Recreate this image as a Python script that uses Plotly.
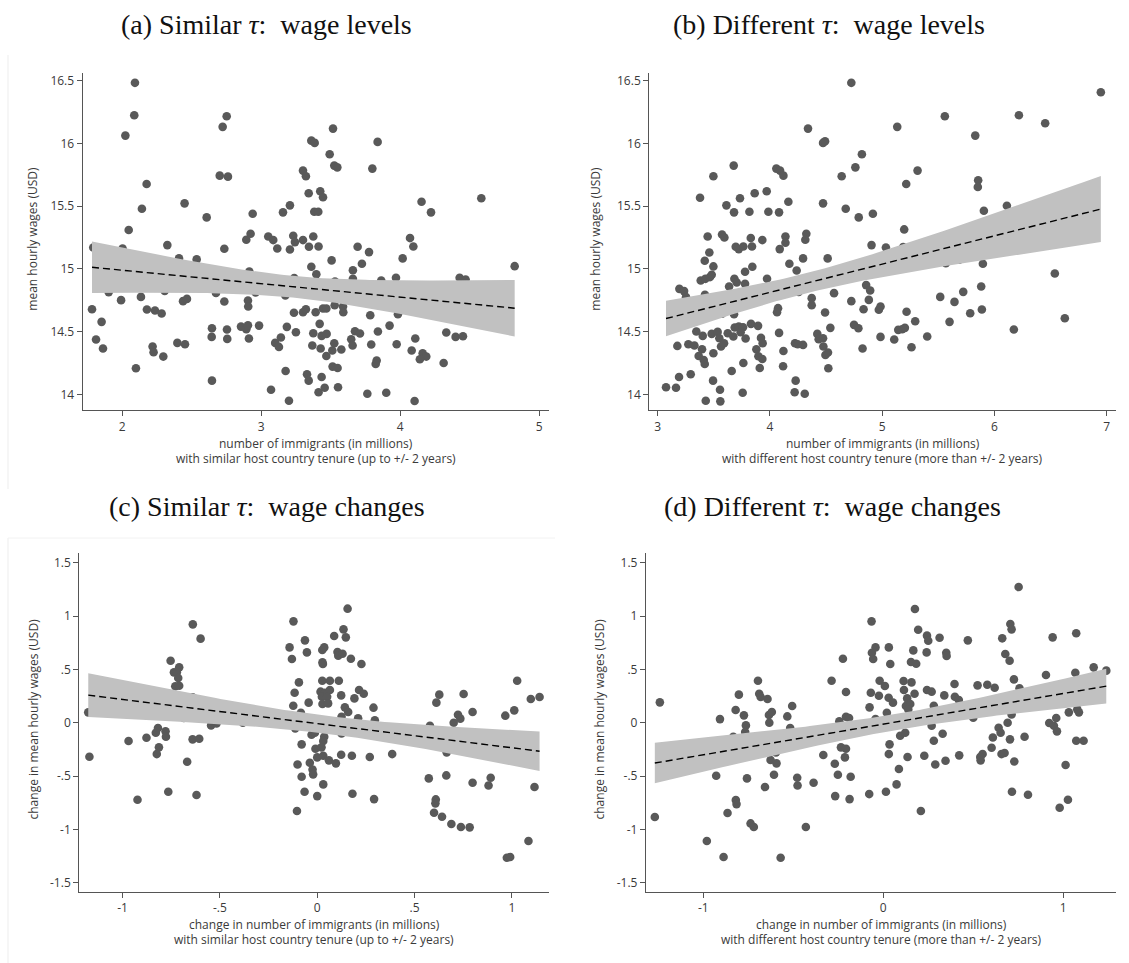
import numpy as np
import plotly.graph_objects as go

# ---------------- data ----------------
# (a) Similar tau: wage levels  -> (immigrants in millions, mean hourly wage)
a_points = [
    (2.091,16.484),(2.086,16.226),(2.022,16.063),(2.175,15.677),(2.141,15.480),(2.046,15.310),(1.791,15.171),
    (2.002,15.163),(2.324,15.190),(2.408,15.084),(2.535,15.076),(1.902,14.815),(1.991,14.751),(2.134,14.777),
    (2.305,14.825),(2.177,14.676),(2.235,14.668),(2.283,14.644),(2.437,14.743),(2.465,14.761),(1.782,14.679),
    (1.851,14.578),(1.811,14.437),(1.861,14.365),(2.218,14.381),(2.225,14.335),(2.295,14.301),(2.396,14.410),
    (2.451,14.399),(2.098,14.208),(2.448,15.523),(2.607,15.411),(2.722,16.133),(2.751,16.218),(2.701,15.744),
    (2.760,15.736),(2.938,15.440),(2.923,15.281),(2.892,15.233),(2.734,15.161),(2.674,14.809),(2.734,14.740),
    (2.645,14.527),(2.643,14.458),(2.753,14.517),(2.755,14.442),(2.645,14.109),(2.904,14.748),(2.906,14.700),
    (2.914,14.980),(2.959,14.812),(2.854,14.540),(2.892,14.519),(2.904,14.551),(2.911,14.445),(2.984,14.548),
    (3.050,15.259),(3.086,15.230),(3.115,15.163),(3.156,15.451),(3.206,15.507),(3.206,15.155),(3.230,15.265),
    (3.242,15.214),(3.173,14.788),(3.237,14.927),(3.184,14.538),(3.249,14.495),(3.141,14.453),(3.100,14.410),
    (3.127,14.378),(3.235,14.650),(3.175,14.186),(3.070,14.037),(3.199,13.949),
    (3.516,16.119),(3.360,16.023),(3.384,16.005),(3.837,16.013),(3.492,15.914),(3.525,15.824),(3.547,15.810),
    (3.799,15.800),(3.300,15.784),(3.321,15.739),(3.341,15.603),(3.424,15.619),(3.444,15.571),(3.381,15.456),
    (3.410,15.456),(4.153,15.536),(4.221,15.451),(4.583,15.563),(3.300,15.230),(3.374,15.259),(3.343,15.177),
    (3.412,15.179),(3.693,15.177),(3.775,15.134),(4.070,15.246),(4.094,15.179),(3.506,15.068),(3.360,15.017),
    (3.396,14.958),(3.659,14.990),(3.724,15.041),(4.017,15.084),(3.659,14.921),(3.530,14.900),(3.863,14.908),
    (3.969,14.929),(4.427,14.929),(4.470,14.916),(4.823,15.022),(3.300,14.655),(3.321,14.679),(3.391,14.655),
    (3.444,14.684),(3.468,14.684),(3.528,14.711),(3.588,14.700),(3.590,14.655),(3.784,14.631),(3.983,14.639),
    (3.420,14.562),(3.374,14.487),(3.434,14.466),(3.470,14.482),(3.367,14.389),(3.427,14.365),(3.468,14.306),
    (3.525,14.407),(3.511,14.349),(3.576,14.357),(3.674,14.503),(3.710,14.485),(3.647,14.439),(3.657,14.389),
    (3.839,14.501),(3.791,14.397),(3.923,14.548),(3.974,14.399),(4.108,14.445),(4.082,14.349),(4.161,14.327),
    (4.187,14.301),(4.141,14.280),(3.830,14.269),(3.823,14.242),(4.312,14.250),(4.331,14.493),(4.398,14.458),
    (4.451,14.463),(3.513,14.221),(3.549,14.210),(3.329,14.160),(3.341,14.109),(3.434,14.138),(3.412,14.016),
    (3.456,14.053),(3.552,14.056),(3.763,14.005),(3.899,14.013),(4.103,13.947),
]

# (b) Different tau: wage levels
b_points = [
    (4.725,16.484),(4.339,16.119),(4.473,16.005),(4.491,16.018),(4.761,15.810),(4.639,15.739),(3.677,15.824),
    (3.496,15.739),(4.057,15.800),(4.090,15.784),(4.120,15.744),(3.377,15.568),(3.864,15.603),(3.971,15.619),
    (3.612,15.507),(3.733,15.563),(3.680,15.451),(3.817,15.456),(3.986,15.456),(4.081,15.451),(4.164,15.536),
    (4.473,15.523),(4.675,15.480),(4.791,15.411),(3.573,15.275),(3.594,15.251),(3.445,15.259),(3.695,15.177),
    (3.722,15.158),(3.763,15.179),(3.829,15.246),(3.840,15.179),(3.932,15.230),(4.087,15.158),(4.138,15.259),
    (4.138,15.209),(4.324,15.281),(4.315,15.233),(3.460,15.131),(3.419,15.065),(3.496,15.020),(3.383,14.908),
    (3.425,14.921),(3.466,14.935),(3.481,14.953),(3.778,14.977),(3.843,15.017),(3.974,14.921),(4.173,15.041),
    (4.238,14.988),(4.295,15.084),(4.514,15.084),(3.193,14.841),(3.235,14.823),(3.252,14.775),(3.421,14.793),
    (3.636,14.860),(3.683,14.921),(3.704,14.892),(3.778,14.881),(3.748,14.700),(3.680,14.639),(3.573,14.642),
    (4.072,14.687),(4.063,14.655),(4.256,14.817),(4.372,14.767),(4.372,14.711),(4.571,14.807),(4.491,14.652),
    (4.725,14.743),(4.749,14.554),(4.788,14.527),(4.538,14.530),(3.344,14.501),(3.401,14.466),(3.481,14.482),
    (3.534,14.498),(3.549,14.447),(3.624,14.487),(3.674,14.461),(3.686,14.533),(3.722,14.540),(3.760,14.535),
    (3.831,14.562),(3.894,14.546),(3.739,14.495),(3.783,14.445),(3.920,14.450),(3.935,14.407),(4.081,14.490),
    (3.175,14.386),(3.273,14.399),(3.327,14.389),(3.365,14.306),(3.395,14.359),(3.410,14.274),(3.419,14.242),
    (3.496,14.327),(3.564,14.381),(3.591,14.407),(3.879,14.359),(3.897,14.304),(3.932,14.282),(3.763,14.250),
    (3.909,14.210),(4.120,14.346),(4.117,14.224),(4.223,14.407),(4.247,14.399),(4.295,14.394),(4.422,14.482),
    (4.434,14.439),(4.473,14.447),(4.476,14.381),(4.494,14.314),(4.517,14.333),(4.520,14.208),(3.659,14.186),
    (3.493,14.109),(3.555,14.037),(3.428,13.949),(3.558,13.944),(3.757,14.013),(3.074,14.056),(3.163,14.053),
    (3.190,14.138),(3.294,14.160),(4.229,14.109),(4.220,14.016),(4.310,14.005),
    (6.948,16.409),(5.558,16.218),(6.218,16.226),(6.452,16.162),(5.134,16.133),(5.829,16.063),(4.819,15.914),
    (5.315,15.784),(5.855,15.707),(5.852,15.653),(5.214,15.677),(6.111,15.504),(5.906,15.464),(4.917,15.440),
    (5.196,15.315),(4.905,15.190),(5.033,15.171),(5.187,15.174),(5.567,15.046),(5.686,15.073),(5.897,15.041),
    (6.538,14.964),(4.857,14.871),(4.893,14.828),(4.881,14.753),(4.834,14.679),(4.970,14.674),(4.985,14.700),
    (5.517,14.777),(5.644,14.737),(5.722,14.817),(5.882,14.860),(5.888,14.676),(5.784,14.647),(5.217,14.658),
    (5.294,14.583),(5.600,14.578),(6.627,14.607),(4.985,14.458),(5.107,14.437),(5.143,14.514),(5.178,14.519),
    (5.202,14.530),(5.401,14.461),(5.261,14.375),(4.825,14.365),(6.173,14.517),
]

# (c) Similar tau: wage changes
c_points = [
    (-1.176,0.097),(-1.170,-0.319),(-0.969,-0.172),(-0.923,-0.722),(-0.877,-0.141),(-0.829,-0.094),(-0.818,-0.050),
    (-0.779,-0.081),(-0.777,-0.131),(-0.813,-0.231),(-0.824,-0.294),(-0.765,-0.647),(-0.753,0.581),(-0.736,0.472),
    (-0.721,0.472),(-0.709,0.519),(-0.714,0.419),(-0.729,0.341),(-0.709,0.347),(-0.685,0.044),(-0.668,-0.366),
    (-0.639,0.922),(-0.599,0.788),(-0.640,-0.156),(-0.606,-0.150),(-0.620,-0.678),(-0.640,0.238),(-0.545,-0.025),
    (-0.517,-0.006),(-0.382,0.000),(-0.122,0.950),(-0.142,0.706),(-0.130,0.597),(-0.094,0.378),(-0.116,0.281),
    (-0.123,0.159),(-0.113,-0.053),(-0.101,-0.391),(-0.104,-0.828),(-0.084,0.094),
    (0.156,1.069),(0.135,0.875),(0.147,0.800),(0.087,0.813),(-0.063,0.772),(-0.053,0.659),(0.026,0.681),
    (0.036,0.706),(0.027,0.566),(0.029,0.550),(0.104,0.663),(0.108,0.628),(0.130,0.647),(0.173,0.600),
    (0.227,0.550),(0.026,0.394),(0.065,0.394),(0.111,0.394),(0.017,0.291),(0.039,0.281),(0.065,0.306),
    (0.024,0.244),(0.051,0.244),(0.027,0.175),(0.056,0.181),(-0.044,0.188),(0.123,0.256),(0.191,0.228),
    (0.215,0.306),(0.239,0.272),(0.142,0.144),(0.159,0.100),(0.289,0.141),(0.210,0.041),(0.296,0.022),
    (0.125,0.056),(-0.029,-0.113),(-0.012,-0.094),(0.036,-0.131),(0.031,-0.172),(0.125,-0.100),(-0.080,-0.203),
    (-0.009,-0.244),(0.022,-0.231),(0.000,-0.325),(0.031,-0.309),(0.060,-0.353),(0.096,-0.381),(0.123,-0.300),
    (0.178,-0.309),(0.270,-0.322),(0.385,-0.294),(-0.038,-0.375),(-0.024,-0.438),(-0.021,-0.484),(-0.080,-0.506),
    (-0.065,-0.647),(0.031,-0.578),(0.000,-0.688),(0.181,-0.666),(0.292,-0.716),(0.573,-0.522),(0.663,-0.494),
    (0.665,-0.278),(0.798,-0.563),(0.880,-0.588),(0.891,-0.516),(0.609,-0.719),(0.607,-0.756),(0.600,-0.844),
    (0.641,-0.881),(0.689,-0.950),(0.738,-0.978),(0.783,-0.981),(0.627,0.263),(0.612,0.188),(0.752,0.269),
    (0.723,0.075),(0.735,0.038),(0.701,0.000),(0.798,0.100),(0.579,-0.028),(1.027,0.394),(0.966,0.066),
    (1.012,0.116),(1.097,0.222),(1.142,0.241),(1.116,-0.603),(1.085,-1.109),(0.974,-1.266),(0.991,-1.259),
    (1.079,-0.372),(0.791,-0.250),
]

# (d) Different tau: wage changes
d_points = [
    (-1.269,-0.884),(-1.241,0.191),(-0.980,-1.109),(-0.887,-1.259),(-0.570,-1.266),(-0.907,0.034),(-0.928,-0.497),
    (-0.865,-0.847),(-0.819,-0.725),(-0.815,-0.763),(-0.820,0.119),(-0.802,0.263),(-0.774,0.069),(-0.763,-0.025),
    (-0.767,-0.088),(-0.833,-0.131),(-0.757,-0.522),(-0.737,-0.944),(-0.719,-0.978),(-0.696,0.394),(-0.689,0.272),
    (-0.681,0.241),(-0.643,0.222),(-0.635,0.072),(-0.619,0.100),(-0.633,0.000),(-0.657,-0.603),(-0.626,-0.350),
    (-0.593,-0.381),(-0.596,-0.278),(-0.607,-0.488),(-0.533,0.059),(-0.506,0.156),(-0.517,-0.050),(-0.478,-0.516),
    (-0.476,-0.588),(-0.430,-0.978),(-0.387,-0.563),(-0.333,-0.303),(-0.287,0.394),(-0.224,0.600),(-0.207,0.288),
    (-0.244,0.013),(-0.207,0.056),(-0.190,0.044),(-0.269,-0.384),(-0.235,-0.231),(-0.207,-0.244),(-0.213,-0.325),
    (-0.252,-0.488),(-0.181,-0.506),(-0.267,-0.688),(-0.187,-0.716),
    (0.752,1.272),(-0.065,0.950),(0.176,1.066),(0.194,0.872),(0.243,0.816),(0.250,0.769),(0.313,0.797),
    (0.470,0.772),(0.706,0.925),(0.713,0.875),(0.661,0.791),(0.941,0.800),(1.072,0.838),(-0.043,0.706),
    (-0.063,0.656),(-0.056,0.597),(0.031,0.706),(0.039,0.550),(0.167,0.678),(0.154,0.569),(0.183,0.553),
    (0.241,0.659),(0.350,0.656),(0.352,0.625),(0.678,0.644),(0.702,0.581),(-0.020,0.394),(0.009,0.344),
    (-0.069,0.281),(-0.024,0.253),(-0.076,0.144),(0.030,0.234),(0.054,0.188),(0.020,0.094),(0.113,0.391),
    (0.115,0.306),(0.157,0.378),(0.174,0.272),(0.133,0.228),(0.126,0.156),(0.150,0.175),(0.139,0.125),
    (0.243,0.306),(0.269,0.291),(0.281,0.159),(0.339,0.256),(0.396,0.363),(0.398,0.244),(0.420,0.213),
    (0.524,0.350),(0.578,0.356),(0.619,0.328),(0.500,0.047),(0.726,0.406),(0.757,0.322),(0.904,0.447),
    (1.067,0.469),(1.169,0.519),(1.239,0.488),(0.713,0.078),(0.691,0.000),(0.641,-0.047),(0.652,-0.094),
    (0.609,-0.138),(0.704,-0.156),(0.785,-0.131),(0.922,-0.003),(0.961,0.044),(0.948,-0.028),(0.965,-0.081),
    (1.031,0.097),(1.078,0.125),(1.087,0.097),(1.072,-0.169),(1.113,-0.169),(1.013,-0.397),(0.980,-0.797),
    (1.026,-0.722),(0.715,-0.647),(0.804,-0.675),(0.728,-0.363),(0.657,-0.294),(0.674,-0.284),(0.602,-0.234),
    (0.552,-0.294),(0.539,-0.322),(0.541,-0.353),(0.422,-0.306),(0.346,-0.356),(0.330,-0.103),(0.281,-0.169),
    (0.269,-0.028),(0.289,-0.391),(0.228,-0.309),(0.209,-0.828),(0.135,-0.322),(0.094,-0.122),(0.122,-0.094),
    (0.035,-0.203),(0.031,-0.294),(0.087,-0.434),(0.074,-0.578),(0.015,-0.647),(-0.078,-0.669),(-0.043,0.034),
]

titles = ["(a) Similar <i>τ</i>:  wage levels", "(b) Different <i>τ</i>:  wage levels",
          "(c) Similar <i>τ</i>:  wage changes", "(d) Different <i>τ</i>:  wage changes"]
y_titles = ["mean hourly wages (USD)", "mean hourly wages (USD)",
            "change in mean hourly wages (USD)", "change in mean hourly wages (USD)"]
x_titles_1 = ["number of immigrants (in millions)", "number of immigrants (in millions)",
              "change in number of immigrants (in millions)", "change in number of immigrants (in millions)"]
x_titles_2 = ["with similar host country tenure (up to +/- 2 years)",
              "with different host country tenure (more than +/- 2 years)",
              "with similar host country tenure (up to +/- 2 years)",
              "with different host country tenure (more than +/- 2 years)"]

level_ticks = [14, 14.5, 15, 15.5, 16, 16.5]
level_ticktext = ["14", "14.5", "15", "15.5", "16", "16.5"]
change_ticks = [-1.5, -1, -0.5, 0, 0.5, 1, 1.5]
change_ticktext = ["-1.5", "-1", "-.5", "0", ".5", "1", "1.5"]
a_xticks = [2, 3, 4, 5]
b_xticks = [3, 4, 5, 6, 7]
c_xticks = [-1, -0.5, 0, 0.5, 1]
c_xticktext = ["-1", "-.5", "0", ".5", "1"]
d_xticks = [-1, 0, 1]

# ---------------- figure ----------------
W, H = 1129, 963
fig = go.Figure()

MARK = "#595959"
BAND = "#c1c1c1"
AXC = "#555555"
TXT = "#3a3a3a"
SANS = "Open Sans"
SERIF = "Liberation Serif"

panels = [
    dict(pts=a_points, xr=[1.715, 5.07], yr=[13.875, 16.56], xt=a_xticks, xtt=[str(v) for v in a_xticks],
         yt=level_ticks, ytt=level_ticktext, px=(82.7, 549.0), py=(73.3, 410.0)),
    dict(pts=b_points, xr=[2.925, 7.083], yr=[13.875, 16.56], xt=b_xticks, xtt=[str(v) for v in b_xticks],
         yt=level_ticks, ytt=level_ticktext, px=(649.3, 1116.0), py=(73.3, 410.0)),
    dict(pts=c_points, xr=[-1.222, 1.192], yr=[-1.584, 1.588], xt=c_xticks, xtt=c_xticktext,
         yt=change_ticks, ytt=change_ticktext, px=(79.3, 549.3), py=(553.3, 891.7)),
    dict(pts=d_points, xr=[-1.318, 1.293], yr=[-1.584, 1.588], xt=d_xticks, xtt=[str(v) for v in d_xticks],
         yt=change_ticks, ytt=change_ticktext, px=(646.0, 1116.0), py=(553.3, 891.7)),
]

title_pos = [(266.7, 25), (829.0, 25), (266.7, 506), (832.0, 506)]
ytitle_x = [33, 596, 33, 599]

layout_axes = {}
annotations = []
for i, p in enumerate(panels):
    k = "" if i == 0 else str(i + 1)
    xa, ya = "x" + k, "y" + k
    x = np.array([q[0] for q in p["pts"]])
    y = np.array([q[1] for q in p["pts"]])

    # linear fit with 95% CI of the prediction (computed from the data)
    n = len(x)
    xbar = x.mean()
    sxx = ((x - xbar) ** 2).sum()
    b1 = ((x - xbar) * (y - y.mean())).sum() / sxx
    b0 = y.mean() - b1 * xbar
    s2 = ((y - b0 - b1 * x) ** 2).sum() / (n - 2)
    xs = np.linspace(x.min(), x.max(), 100)
    fit = b0 + b1 * xs
    se = np.sqrt(s2 * (1.0 / n + (xs - xbar) ** 2 / sxx))
    up, lo = fit + 1.976 * se, fit - 1.976 * se

    fig.add_trace(go.Scatter(x=x, y=y, mode="markers", xaxis=xa, yaxis=ya, showlegend=False,
                             marker=dict(color=MARK, size=8.6, line=dict(width=0))))
    fig.add_trace(go.Scatter(x=np.concatenate([xs, xs[::-1]]), y=np.concatenate([up, lo[::-1]]),
                             mode="lines", fill="toself", fillcolor=BAND, line=dict(width=0),
                             xaxis=xa, yaxis=ya, showlegend=False, hoverinfo="skip"))
    fig.add_trace(go.Scatter(x=xs, y=fit, mode="lines", xaxis=xa, yaxis=ya, showlegend=False,
                             line=dict(color="black", width=1.4, dash="7px,4px")))

    common = dict(showline=True, linecolor=AXC, linewidth=1.3, ticks="outside", ticklen=5,
                  tickcolor=AXC, tickwidth=1.2, showgrid=False, zeroline=False, mirror=False,
                  tickfont=dict(family=SANS, size=12, color=TXT))
    layout_axes["xaxis" + k] = dict(common, domain=[p["px"][0] / W, p["px"][1] / W], range=p["xr"],
                                    tickmode="array", tickvals=p["xt"], ticktext=p["xtt"], anchor=ya)
    layout_axes["yaxis" + k] = dict(common, domain=[1 - p["py"][1] / H, 1 - p["py"][0] / H], range=p["yr"],
                                    tickmode="array", tickvals=p["yt"], ticktext=p["ytt"], anchor=xa)

    # panel title
    tx, ty = title_pos[i]
    annotations.append(dict(text=titles[i], x=tx / W, y=1 - ty / H, xref="paper", yref="paper",
                            showarrow=False, xanchor="center", yanchor="middle",
                            font=dict(family=SERIF, size=28, color="#111111")))
    # y-axis title
    annotations.append(dict(text=y_titles[i], x=ytitle_x[i] / W, y=1 - (sum(p["py"]) / 2 - 3) / H,
                            xref="paper", yref="paper", showarrow=False, textangle=-90,
                            xanchor="center", yanchor="middle",
                            font=dict(family=SANS, size=12, color=TXT)))
    # x-axis title (two lines)
    xc = (sum(p["px"]) / 2) / W
    for txt, off in ((x_titles_1[i], 33), (x_titles_2[i], 48)):
        annotations.append(dict(text=txt, x=xc, y=1 - (p["py"][1] + off) / H,
                                xref="paper", yref="paper", showarrow=False,
                                xanchor="center", yanchor="middle",
                                font=dict(family=SANS, size=12, color=TXT)))

shapes = [
    dict(type="line", xref="paper", yref="paper", x0=8 / W, x1=8 / W, y0=1 - 489 / H, y1=1 - 55 / H,
         line=dict(color="#ededed", width=1)),
    dict(type="line", xref="paper", yref="paper", x0=8 / W, x1=8 / W, y0=1 - 963 / H, y1=1 - 538 / H,
         line=dict(color="#ededed", width=1)),
    dict(type="line", xref="paper", yref="paper", x0=8 / W, x1=555 / W, y0=1 - 538 / H, y1=1 - 538 / H,
         line=dict(color="#f2f2f2", width=1)),
]

fig.update_layout(width=W, height=H, margin=dict(l=0, r=0, t=0, b=0),
                  paper_bgcolor="white", plot_bgcolor="white",
                  annotations=annotations, shapes=shapes, **layout_axes)

fig.write_html("out.html")
